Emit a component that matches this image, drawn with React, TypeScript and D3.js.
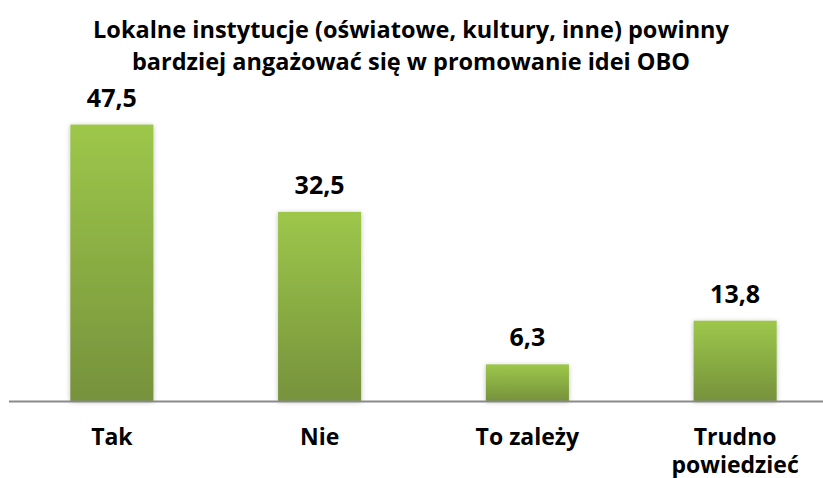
import React, { useEffect, useRef } from 'react'
import * as d3 from 'd3'

const categories = ['Tak', 'Nie', 'To zależy', 'Trudno powiedzieć']
const categoryLines = [['Tak'], ['Nie'], ['To zależy'], ['Trudno', 'powiedzieć']]
const values = [47.5, 32.5, 6.3, 13.8]
const titleLines = [
  'Lokalne instytucje (oświatowe, kultury, inne) powinny',
  'bardziej angażować się w promowanie idei OBO',
]

const W = 823
const H = 478
const FONT = '"Open Sans", "Noto Sans", sans-serif'

const App = () => {
  const ref = useRef<SVGSVGElement>(null)

  useEffect(() => {
    const svg = d3.select(ref.current)
    svg.selectAll('*').remove()

    const x = d3.scaleBand<string>().domain(categories).range([8, 839]).paddingInner(0.6).paddingOuter(0.3)
    const y = d3.scaleLinear().domain([0, 50]).range([401, 110])

    const defs = svg.append('defs')
    const grad = defs.append('linearGradient').attr('id', 'barGrad').attr('x1', 0).attr('y1', 0).attr('x2', 0).attr('y2', 1)
    grad.append('stop').attr('offset', '0%').attr('stop-color', '#9dc74a')
    grad.append('stop').attr('offset', '100%').attr('stop-color', '#76923c')
    const filt = defs.append('filter').attr('id', 'shadow').attr('x', '-20%').attr('y', '-20%').attr('width', '140%').attr('height', '140%')
    filt.append('feDropShadow').attr('dx', 0).attr('dy', 1).attr('stdDeviation', 2.5).attr('flood-color', '#000').attr('flood-opacity', 0.25)

    // tytuł
    svg.append('g')
      .selectAll('text')
      .data(titleLines)
      .enter()
      .append('text')
      .attr('x', 411)
      .attr('y', (d, i) => 38 + i * 32)
      .attr('text-anchor', 'middle')
      .attr('font-family', FONT)
      .attr('font-weight', 'bold')
      .attr('font-size', 23.5)
      .attr('fill', '#000')
      .text((d) => d)

    // słupki
    svg.selectAll('.bar')
      .data(values)
      .enter()
      .append('rect')
      .attr('class', 'bar')
      .attr('x', (d, i) => x(categories[i])!)
      .attr('y', (d) => y(d))
      .attr('width', x.bandwidth())
      .attr('height', (d) => y(0) - y(d))
      .attr('fill', 'url(#barGrad)')
      .attr('filter', 'url(#shadow)')

    // oś
    svg.append('line')
      .attr('x1', 9)
      .attr('x2', W)
      .attr('y1', y(0) + 0.5)
      .attr('y2', y(0) + 0.5)
      .attr('stroke', '#8a8a8a')
      .attr('stroke-width', 2)

    // etykiety wartości
    svg.selectAll('.val')
      .data(values)
      .enter()
      .append('text')
      .attr('class', 'val')
      .attr('x', (d, i) => x(categories[i])! + x.bandwidth() / 2)
      .attr('y', (d) => y(d) - 18)
      .attr('text-anchor', 'middle')
      .attr('font-family', FONT)
      .attr('font-weight', 'bold')
      .attr('font-size', 25)
      .text((d) => d.toFixed(1).replace('.', ','))

    // etykiety kategorii
    const cat = svg.selectAll('.cat')
      .data(categoryLines)
      .enter()
      .append('text')
      .attr('class', 'cat')
      .attr('text-anchor', 'middle')
      .attr('font-family', FONT)
      .attr('font-weight', 'bold')
      .attr('font-size', 23)
    cat.selectAll('tspan')
      .data((d, i) => d.map((t) => ({ t, i })))
      .enter()
      .append('tspan')
      .attr('x', (d) => x(categories[d.i])! + x.bandwidth() / 2)
      .attr('y', (d, j) => 445 + j * 28)
      .text((d) => d.t)
  }, [])

  return (
    <svg ref={ref} width={W} height={H} style={{ position: 'absolute', left: 0, top: 0, background: '#fff' }} />
  )
}

export default App
